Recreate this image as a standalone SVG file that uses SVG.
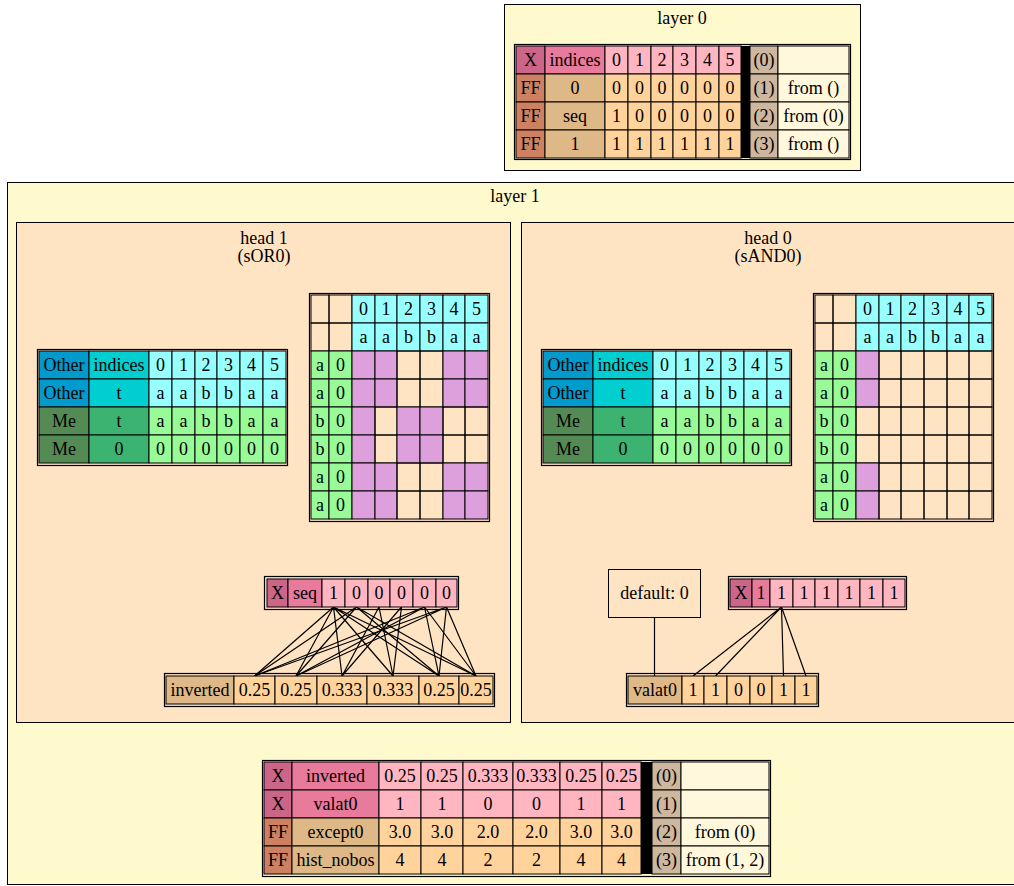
<svg xmlns="http://www.w3.org/2000/svg" width="1014" height="886" viewBox="0 0 1014 886">
<style>
.t{font-family:"Liberation Serif","Times New Roman","DejaVu Serif",serif;font-size:18px;text-anchor:middle;fill:#000}
.c{stroke:#000;stroke-width:1}
.o{fill:none;stroke:#000;stroke-width:1.2}
.xk{fill:#CC6688}.xl{fill:#E87A9C}.xv{fill:#FFB6C1}
.fk{fill:#CD8162}.fl{fill:#DEB887}.fv{fill:#FFD39B}
.n{fill:#CDB79E}.fr{fill:#FFF8DC}.bk{fill:#000}
.ok{fill:#009ACD}.ol{fill:#00CED1}.ov{fill:#98FFFF}
.mk{fill:#548B54}.ml{fill:#3CB371}.mv{fill:#98FB98}
.pk{fill:#DDA0DD}.e{fill:none}
.edge{stroke:#000;stroke-width:1.2;fill:none}
</style>
<rect width="1014" height="886" fill="#fff"/>

<!-- layer 0 -->
<g id="layer0">
<rect x="504.5" y="4.5" width="356" height="166" fill="#FFFACD" stroke="#000"/>
<text class="t" x="682" y="24">layer 0</text>
<g id="l0_table">
<rect class="o" x="514.5" y="44.5" width="336" height="115"/>
<rect class="c xk" x="516" y="46" width="29" height="28"/><text class="t" x="530.5" y="66">X</text>
<rect class="c xl" x="545" y="46" width="60" height="28"/><text class="t" x="575" y="66">indices</text>
<rect class="c xv" x="605" y="46" width="23" height="28"/><text class="t" x="616.5" y="66">0</text>
<rect class="c xv" x="628" y="46" width="23" height="28"/><text class="t" x="639.5" y="66">1</text>
<rect class="c xv" x="651" y="46" width="22" height="28"/><text class="t" x="662" y="66">2</text>
<rect class="c xv" x="673" y="46" width="23" height="28"/><text class="t" x="684.5" y="66">3</text>
<rect class="c xv" x="696" y="46" width="23" height="28"/><text class="t" x="707.5" y="66">4</text>
<rect class="c xv" x="719" y="46" width="22" height="28"/><text class="t" x="730" y="66">5</text>
<rect class="c n" x="750" y="46" width="28" height="28"/><text class="t" x="764" y="66">(0)</text>
<rect class="c fr" x="778" y="46" width="71" height="28"/>
<rect class="c fk" x="516" y="74" width="29" height="28"/><text class="t" x="530.5" y="94">FF</text>
<rect class="c fl" x="545" y="74" width="60" height="28"/><text class="t" x="575" y="94">0</text>
<rect class="c fv" x="605" y="74" width="23" height="28"/><text class="t" x="616.5" y="94">0</text>
<rect class="c fv" x="628" y="74" width="23" height="28"/><text class="t" x="639.5" y="94">0</text>
<rect class="c fv" x="651" y="74" width="22" height="28"/><text class="t" x="662" y="94">0</text>
<rect class="c fv" x="673" y="74" width="23" height="28"/><text class="t" x="684.5" y="94">0</text>
<rect class="c fv" x="696" y="74" width="23" height="28"/><text class="t" x="707.5" y="94">0</text>
<rect class="c fv" x="719" y="74" width="22" height="28"/><text class="t" x="730" y="94">0</text>
<rect class="c n" x="750" y="74" width="28" height="28"/><text class="t" x="764" y="94">(1)</text>
<rect class="c fr" x="778" y="74" width="71" height="28"/><text class="t" x="813.5" y="94">from ()</text>
<rect class="c fk" x="516" y="102" width="29" height="28"/><text class="t" x="530.5" y="122">FF</text>
<rect class="c fl" x="545" y="102" width="60" height="28"/><text class="t" x="575" y="122">seq</text>
<rect class="c fv" x="605" y="102" width="23" height="28"/><text class="t" x="616.5" y="122">1</text>
<rect class="c fv" x="628" y="102" width="23" height="28"/><text class="t" x="639.5" y="122">0</text>
<rect class="c fv" x="651" y="102" width="22" height="28"/><text class="t" x="662" y="122">0</text>
<rect class="c fv" x="673" y="102" width="23" height="28"/><text class="t" x="684.5" y="122">0</text>
<rect class="c fv" x="696" y="102" width="23" height="28"/><text class="t" x="707.5" y="122">0</text>
<rect class="c fv" x="719" y="102" width="22" height="28"/><text class="t" x="730" y="122">0</text>
<rect class="c n" x="750" y="102" width="28" height="28"/><text class="t" x="764" y="122">(2)</text>
<rect class="c fr" x="778" y="102" width="71" height="28"/><text class="t" x="813.5" y="122">from (0)</text>
<rect class="c fk" x="516" y="130" width="29" height="28"/><text class="t" x="530.5" y="150">FF</text>
<rect class="c fl" x="545" y="130" width="60" height="28"/><text class="t" x="575" y="150">1</text>
<rect class="c fv" x="605" y="130" width="23" height="28"/><text class="t" x="616.5" y="150">1</text>
<rect class="c fv" x="628" y="130" width="23" height="28"/><text class="t" x="639.5" y="150">1</text>
<rect class="c fv" x="651" y="130" width="22" height="28"/><text class="t" x="662" y="150">1</text>
<rect class="c fv" x="673" y="130" width="23" height="28"/><text class="t" x="684.5" y="150">1</text>
<rect class="c fv" x="696" y="130" width="23" height="28"/><text class="t" x="707.5" y="150">1</text>
<rect class="c fv" x="719" y="130" width="22" height="28"/><text class="t" x="730" y="150">1</text>
<rect class="c n" x="750" y="130" width="28" height="28"/><text class="t" x="764" y="150">(3)</text>
<rect class="c fr" x="778" y="130" width="71" height="28"/><text class="t" x="813.5" y="150">from ()</text>
<rect class="bk" x="741" y="46" width="9" height="112"/>
</g>
</g>

<!-- layer 1 -->
<g id="layer1">
<rect x="7.5" y="182.5" width="1020" height="702" fill="#FFFACD" stroke="#000"/>
<text class="t" x="515" y="202">layer 1</text>
</g>

<g id="head1">
<rect x="16.5" y="222.5" width="494" height="500" fill="#FFE4C4" stroke="#000"/>
<text class="t" x="264" y="244">head 1</text>
<text class="t" x="264" y="262">(sOR0)</text>
</g>
<g id="head0">
<rect x="521.5" y="222.5" width="494" height="500" fill="#FFE4C4" stroke="#000"/>
<text class="t" x="768" y="244">head 0</text>
<text class="t" x="768" y="262">(sAND0)</text>
</g>

<defs>
<g id="om_table">
<rect class="o" x="37.5" y="349.5" width="250" height="116"/>
<rect class="c ok" x="39" y="351" width="50" height="28"/><text class="t" x="64" y="371">Other</text>
<rect class="c ol" x="89" y="351" width="60" height="28"/><text class="t" x="119" y="371">indices</text>
<rect class="c ov" x="149" y="351" width="23" height="28"/><text class="t" x="160.5" y="371">0</text>
<rect class="c ov" x="172" y="351" width="23" height="28"/><text class="t" x="183.5" y="371">1</text>
<rect class="c ov" x="195" y="351" width="22" height="28"/><text class="t" x="206" y="371">2</text>
<rect class="c ov" x="217" y="351" width="23" height="28"/><text class="t" x="228.5" y="371">3</text>
<rect class="c ov" x="240" y="351" width="23" height="28"/><text class="t" x="251.5" y="371">4</text>
<rect class="c ov" x="263" y="351" width="23" height="28"/><text class="t" x="274.5" y="371">5</text>
<rect class="c ok" x="39" y="379" width="50" height="28"/><text class="t" x="64" y="399">Other</text>
<rect class="c ol" x="89" y="379" width="60" height="28"/><text class="t" x="119" y="399">t</text>
<rect class="c ov" x="149" y="379" width="23" height="28"/><text class="t" x="160.5" y="399">a</text>
<rect class="c ov" x="172" y="379" width="23" height="28"/><text class="t" x="183.5" y="399">a</text>
<rect class="c ov" x="195" y="379" width="22" height="28"/><text class="t" x="206" y="399">b</text>
<rect class="c ov" x="217" y="379" width="23" height="28"/><text class="t" x="228.5" y="399">b</text>
<rect class="c ov" x="240" y="379" width="23" height="28"/><text class="t" x="251.5" y="399">a</text>
<rect class="c ov" x="263" y="379" width="23" height="28"/><text class="t" x="274.5" y="399">a</text>
<rect class="c mk" x="39" y="407" width="50" height="28"/><text class="t" x="64" y="427">Me</text>
<rect class="c ml" x="89" y="407" width="60" height="28"/><text class="t" x="119" y="427">t</text>
<rect class="c mv" x="149" y="407" width="23" height="28"/><text class="t" x="160.5" y="427">a</text>
<rect class="c mv" x="172" y="407" width="23" height="28"/><text class="t" x="183.5" y="427">a</text>
<rect class="c mv" x="195" y="407" width="22" height="28"/><text class="t" x="206" y="427">b</text>
<rect class="c mv" x="217" y="407" width="23" height="28"/><text class="t" x="228.5" y="427">b</text>
<rect class="c mv" x="240" y="407" width="23" height="28"/><text class="t" x="251.5" y="427">a</text>
<rect class="c mv" x="263" y="407" width="23" height="28"/><text class="t" x="274.5" y="427">a</text>
<rect class="c mk" x="39" y="435" width="50" height="28"/><text class="t" x="64" y="455">Me</text>
<rect class="c ml" x="89" y="435" width="60" height="28"/><text class="t" x="119" y="455">0</text>
<rect class="c mv" x="149" y="435" width="23" height="28"/><text class="t" x="160.5" y="455">0</text>
<rect class="c mv" x="172" y="435" width="23" height="28"/><text class="t" x="183.5" y="455">0</text>
<rect class="c mv" x="195" y="435" width="22" height="28"/><text class="t" x="206" y="455">0</text>
<rect class="c mv" x="217" y="435" width="23" height="28"/><text class="t" x="228.5" y="455">0</text>
<rect class="c mv" x="240" y="435" width="23" height="28"/><text class="t" x="251.5" y="455">0</text>
<rect class="c mv" x="263" y="435" width="23" height="28"/><text class="t" x="274.5" y="455">0</text>
</g>
<g id="mat_head">
<rect class="o" x="309.5" y="293.5" width="180" height="228"/>
<rect class="c e" x="311" y="295" width="18" height="28"/>
<rect class="c e" x="329" y="295" width="23" height="28"/>
<rect class="c ov" x="352" y="295" width="23" height="28"/><text class="t" x="363.5" y="315">0</text>
<rect class="c ov" x="375" y="295" width="22" height="28"/><text class="t" x="386" y="315">1</text>
<rect class="c ov" x="397" y="295" width="23" height="28"/><text class="t" x="408.5" y="315">2</text>
<rect class="c ov" x="420" y="295" width="23" height="28"/><text class="t" x="431.5" y="315">3</text>
<rect class="c ov" x="443" y="295" width="22" height="28"/><text class="t" x="454" y="315">4</text>
<rect class="c ov" x="465" y="295" width="23" height="28"/><text class="t" x="476.5" y="315">5</text>
<rect class="c e" x="311" y="323" width="18" height="28"/>
<rect class="c e" x="329" y="323" width="23" height="28"/>
<rect class="c ov" x="352" y="323" width="23" height="28"/><text class="t" x="363.5" y="343">a</text>
<rect class="c ov" x="375" y="323" width="22" height="28"/><text class="t" x="386" y="343">a</text>
<rect class="c ov" x="397" y="323" width="23" height="28"/><text class="t" x="408.5" y="343">b</text>
<rect class="c ov" x="420" y="323" width="23" height="28"/><text class="t" x="431.5" y="343">b</text>
<rect class="c ov" x="443" y="323" width="22" height="28"/><text class="t" x="454" y="343">a</text>
<rect class="c ov" x="465" y="323" width="23" height="28"/><text class="t" x="476.5" y="343">a</text>
<rect class="c mv" x="311" y="351" width="18" height="28"/><text class="t" x="320" y="371">a</text>
<rect class="c mv" x="329" y="351" width="23" height="28"/><text class="t" x="340.5" y="371">0</text>
<rect class="c mv" x="311" y="379" width="18" height="28"/><text class="t" x="320" y="399">a</text>
<rect class="c mv" x="329" y="379" width="23" height="28"/><text class="t" x="340.5" y="399">0</text>
<rect class="c mv" x="311" y="407" width="18" height="28"/><text class="t" x="320" y="427">b</text>
<rect class="c mv" x="329" y="407" width="23" height="28"/><text class="t" x="340.5" y="427">0</text>
<rect class="c mv" x="311" y="435" width="18" height="28"/><text class="t" x="320" y="455">b</text>
<rect class="c mv" x="329" y="435" width="23" height="28"/><text class="t" x="340.5" y="455">0</text>
<rect class="c mv" x="311" y="463" width="18" height="28"/><text class="t" x="320" y="483">a</text>
<rect class="c mv" x="329" y="463" width="23" height="28"/><text class="t" x="340.5" y="483">0</text>
<rect class="c mv" x="311" y="491" width="18" height="28"/><text class="t" x="320" y="511">a</text>
<rect class="c mv" x="329" y="491" width="23" height="28"/><text class="t" x="340.5" y="511">0</text>
</g>
</defs>

<g id="h1_query_key"><use href="#om_table"/></g>
<g id="h1_selector">
<use href="#mat_head"/>
<rect class="c pk" x="352" y="351" width="23" height="28"/><rect class="c pk" x="375" y="351" width="22" height="28"/><rect class="c e" x="397" y="351" width="23" height="28"/><rect class="c e" x="420" y="351" width="23" height="28"/><rect class="c pk" x="443" y="351" width="22" height="28"/><rect class="c pk" x="465" y="351" width="23" height="28"/>
<rect class="c pk" x="352" y="379" width="23" height="28"/><rect class="c pk" x="375" y="379" width="22" height="28"/><rect class="c e" x="397" y="379" width="23" height="28"/><rect class="c e" x="420" y="379" width="23" height="28"/><rect class="c pk" x="443" y="379" width="22" height="28"/><rect class="c pk" x="465" y="379" width="23" height="28"/>
<rect class="c pk" x="352" y="407" width="23" height="28"/><rect class="c e" x="375" y="407" width="22" height="28"/><rect class="c pk" x="397" y="407" width="23" height="28"/><rect class="c pk" x="420" y="407" width="23" height="28"/><rect class="c e" x="443" y="407" width="22" height="28"/><rect class="c e" x="465" y="407" width="23" height="28"/>
<rect class="c pk" x="352" y="435" width="23" height="28"/><rect class="c e" x="375" y="435" width="22" height="28"/><rect class="c pk" x="397" y="435" width="23" height="28"/><rect class="c pk" x="420" y="435" width="23" height="28"/><rect class="c e" x="443" y="435" width="22" height="28"/><rect class="c e" x="465" y="435" width="23" height="28"/>
<rect class="c pk" x="352" y="463" width="23" height="28"/><rect class="c pk" x="375" y="463" width="22" height="28"/><rect class="c e" x="397" y="463" width="23" height="28"/><rect class="c e" x="420" y="463" width="23" height="28"/><rect class="c pk" x="443" y="463" width="22" height="28"/><rect class="c pk" x="465" y="463" width="23" height="28"/>
<rect class="c pk" x="352" y="491" width="23" height="28"/><rect class="c pk" x="375" y="491" width="22" height="28"/><rect class="c e" x="397" y="491" width="23" height="28"/><rect class="c e" x="420" y="491" width="23" height="28"/><rect class="c pk" x="443" y="491" width="22" height="28"/><rect class="c pk" x="465" y="491" width="23" height="28"/>
</g>

<g id="h0_query_key" transform="translate(504,0)"><use href="#om_table"/></g>
<g id="h0_selector" transform="translate(504,0)">
<use href="#mat_head"/>
<rect class="c pk" x="352" y="351" width="23" height="28"/><rect class="c e" x="375" y="351" width="22" height="28"/><rect class="c e" x="397" y="351" width="23" height="28"/><rect class="c e" x="420" y="351" width="23" height="28"/><rect class="c e" x="443" y="351" width="22" height="28"/><rect class="c e" x="465" y="351" width="23" height="28"/>
<rect class="c pk" x="352" y="379" width="23" height="28"/><rect class="c e" x="375" y="379" width="22" height="28"/><rect class="c e" x="397" y="379" width="23" height="28"/><rect class="c e" x="420" y="379" width="23" height="28"/><rect class="c e" x="443" y="379" width="22" height="28"/><rect class="c e" x="465" y="379" width="23" height="28"/>
<rect class="c e" x="352" y="407" width="23" height="28"/><rect class="c e" x="375" y="407" width="22" height="28"/><rect class="c e" x="397" y="407" width="23" height="28"/><rect class="c e" x="420" y="407" width="23" height="28"/><rect class="c e" x="443" y="407" width="22" height="28"/><rect class="c e" x="465" y="407" width="23" height="28"/>
<rect class="c e" x="352" y="435" width="23" height="28"/><rect class="c e" x="375" y="435" width="22" height="28"/><rect class="c e" x="397" y="435" width="23" height="28"/><rect class="c e" x="420" y="435" width="23" height="28"/><rect class="c e" x="443" y="435" width="22" height="28"/><rect class="c e" x="465" y="435" width="23" height="28"/>
<rect class="c pk" x="352" y="463" width="23" height="28"/><rect class="c e" x="375" y="463" width="22" height="28"/><rect class="c e" x="397" y="463" width="23" height="28"/><rect class="c e" x="420" y="463" width="23" height="28"/><rect class="c e" x="443" y="463" width="22" height="28"/><rect class="c e" x="465" y="463" width="23" height="28"/>
<rect class="c pk" x="352" y="491" width="23" height="28"/><rect class="c e" x="375" y="491" width="22" height="28"/><rect class="c e" x="397" y="491" width="23" height="28"/><rect class="c e" x="420" y="491" width="23" height="28"/><rect class="c e" x="443" y="491" width="22" height="28"/><rect class="c e" x="465" y="491" width="23" height="28"/>
</g>

<g id="connectors">
<path class="edge" d="M333.5,607L254.5,676M333.5,607L296,676M333.5,607L342,676M333.5,607L393,676M333.5,607L439,676M333.5,607L476,676"/>
<path class="edge" d="M356.5,607L254.5,676M356.5,607L296,676M356.5,607L439,676M356.5,607L476,676"/>
<path class="edge" d="M379,607L342,676M379,607L393,676M401.5,607L342,676M401.5,607L393,676"/>
<path class="edge" d="M424.5,607L254.5,676M424.5,607L296,676M424.5,607L439,676M424.5,607L476,676"/>
<path class="edge" d="M446.5,607L254.5,676M446.5,607L296,676M446.5,607L439,676M446.5,607L476,676"/>
<path class="edge" d="M781.5,607L693,676M781.5,607L715.5,676M781.5,607L783.5,676M781.5,607L806,676"/>
<path class="edge" d="M654.5,617.5L654.5,676"/>
</g>

<g id="h1_seq">
<rect class="o" x="264.5" y="576.5" width="194" height="33"/>
<rect class="c xk" x="267" y="579" width="21" height="28"/><text class="t" x="277.5" y="599">X</text>
<rect class="c xl" x="288" y="579" width="34" height="28"/><text class="t" x="305" y="599">seq</text>
<rect class="c xv" x="322" y="579" width="23" height="28"/><text class="t" x="333.5" y="599">1</text>
<rect class="c xv" x="345" y="579" width="23" height="28"/><text class="t" x="356.5" y="599">0</text>
<rect class="c xv" x="368" y="579" width="22" height="28"/><text class="t" x="379" y="599">0</text>
<rect class="c xv" x="390" y="579" width="23" height="28"/><text class="t" x="401.5" y="599">0</text>
<rect class="c xv" x="413" y="579" width="23" height="28"/><text class="t" x="424.5" y="599">0</text>
<rect class="c xv" x="436" y="579" width="21" height="28"/><text class="t" x="446.5" y="599">0</text>
</g>
<g id="h1_inverted">
<rect class="o" x="164.5" y="673.5" width="330" height="33"/>
<rect class="c fl" x="166" y="676" width="68" height="28"/><text class="t" x="200" y="696">inverted</text>
<rect class="c fv" x="234" y="676" width="41" height="28"/><text class="t" x="254.5" y="696">0.25</text>
<rect class="c fv" x="275" y="676" width="42" height="28"/><text class="t" x="296" y="696">0.25</text>
<rect class="c fv" x="317" y="676" width="50" height="28"/><text class="t" x="342" y="696">0.333</text>
<rect class="c fv" x="367" y="676" width="52" height="28"/><text class="t" x="393" y="696">0.333</text>
<rect class="c fv" x="419" y="676" width="40" height="28"/><text class="t" x="439" y="696">0.25</text>
<rect class="c fv" x="459" y="676" width="34" height="28"/><text class="t" x="476" y="696">0.25</text>
</g>

<g id="h0_key">
<rect class="o" x="728.5" y="576.5" width="178" height="33"/>
<rect class="c xk" x="730" y="579" width="22" height="28"/><text class="t" x="741" y="599">X</text>
<rect class="c xl" x="752" y="579" width="18" height="28"/><text class="t" x="761" y="599">1</text>
<rect class="c xv" x="770" y="579" width="23" height="28"/><text class="t" x="781.5" y="599">1</text>
<rect class="c xv" x="793" y="579" width="22" height="28"/><text class="t" x="804" y="599">1</text>
<rect class="c xv" x="815" y="579" width="23" height="28"/><text class="t" x="826.5" y="599">1</text>
<rect class="c xv" x="838" y="579" width="22" height="28"/><text class="t" x="849" y="599">1</text>
<rect class="c xv" x="860" y="579" width="23" height="28"/><text class="t" x="871.5" y="599">1</text>
<rect class="c xv" x="883" y="579" width="22" height="28"/><text class="t" x="894" y="599">1</text>
</g>
<g id="h0_default">
<rect x="608.5" y="569.5" width="92" height="48" fill="#FFE4C4" stroke="#000"/>
<text class="t" x="654.5" y="599">default: 0</text>
</g>
<g id="h0_valat0">
<rect class="o" x="626.5" y="673.5" width="192" height="33"/>
<rect class="c fl" x="628" y="676" width="54" height="28"/><text class="t" x="655" y="696">valat0</text>
<rect class="c fv" x="682" y="676" width="22" height="28"/><text class="t" x="693" y="696">1</text>
<rect class="c fv" x="704" y="676" width="23" height="28"/><text class="t" x="715.5" y="696">1</text>
<rect class="c fv" x="727" y="676" width="23" height="28"/><text class="t" x="738.5" y="696">0</text>
<rect class="c fv" x="750" y="676" width="22" height="28"/><text class="t" x="761" y="696">0</text>
<rect class="c fv" x="772" y="676" width="23" height="28"/><text class="t" x="783.5" y="696">1</text>
<rect class="c fv" x="795" y="676" width="22" height="28"/><text class="t" x="806" y="696">1</text>
</g>

<g id="l1_table">
<rect class="o" x="262.5" y="760.5" width="508" height="116"/>
<rect class="c xk" x="264" y="762" width="28" height="28"/><text class="t" x="278" y="782">X</text>
<rect class="c xl" x="292" y="762" width="87" height="28"/><text class="t" x="335.5" y="782">inverted</text>
<rect class="c xv" x="379" y="762" width="42" height="28"/><text class="t" x="400" y="782">0.25</text>
<rect class="c xv" x="421" y="762" width="42" height="28"/><text class="t" x="442" y="782">0.25</text>
<rect class="c xv" x="463" y="762" width="50" height="28"/><text class="t" x="488" y="782">0.333</text>
<rect class="c xv" x="513" y="762" width="47" height="28"/><text class="t" x="536.5" y="782">0.333</text>
<rect class="c xv" x="560" y="762" width="42" height="28"/><text class="t" x="581" y="782">0.25</text>
<rect class="c xv" x="602" y="762" width="39" height="28"/><text class="t" x="621.5" y="782">0.25</text>
<rect class="c n" x="652" y="762" width="29" height="28"/><text class="t" x="666.5" y="782">(0)</text>
<rect class="c fr" x="681" y="762" width="88" height="28"/>
<rect class="c xk" x="264" y="790" width="28" height="28"/><text class="t" x="278" y="810">X</text>
<rect class="c xl" x="292" y="790" width="87" height="28"/><text class="t" x="335.5" y="810">valat0</text>
<rect class="c xv" x="379" y="790" width="42" height="28"/><text class="t" x="400" y="810">1</text>
<rect class="c xv" x="421" y="790" width="42" height="28"/><text class="t" x="442" y="810">1</text>
<rect class="c xv" x="463" y="790" width="50" height="28"/><text class="t" x="488" y="810">0</text>
<rect class="c xv" x="513" y="790" width="47" height="28"/><text class="t" x="536.5" y="810">0</text>
<rect class="c xv" x="560" y="790" width="42" height="28"/><text class="t" x="581" y="810">1</text>
<rect class="c xv" x="602" y="790" width="39" height="28"/><text class="t" x="621.5" y="810">1</text>
<rect class="c n" x="652" y="790" width="29" height="28"/><text class="t" x="666.5" y="810">(1)</text>
<rect class="c fr" x="681" y="790" width="88" height="28"/>
<rect class="c fk" x="264" y="818" width="28" height="28"/><text class="t" x="278" y="838">FF</text>
<rect class="c fl" x="292" y="818" width="87" height="28"/><text class="t" x="335.5" y="838">except0</text>
<rect class="c fv" x="379" y="818" width="42" height="28"/><text class="t" x="400" y="838">3.0</text>
<rect class="c fv" x="421" y="818" width="42" height="28"/><text class="t" x="442" y="838">3.0</text>
<rect class="c fv" x="463" y="818" width="50" height="28"/><text class="t" x="488" y="838">2.0</text>
<rect class="c fv" x="513" y="818" width="47" height="28"/><text class="t" x="536.5" y="838">2.0</text>
<rect class="c fv" x="560" y="818" width="42" height="28"/><text class="t" x="581" y="838">3.0</text>
<rect class="c fv" x="602" y="818" width="39" height="28"/><text class="t" x="621.5" y="838">3.0</text>
<rect class="c n" x="652" y="818" width="29" height="28"/><text class="t" x="666.5" y="838">(2)</text>
<rect class="c fr" x="681" y="818" width="88" height="28"/><text class="t" x="725" y="838">from (0)</text>
<rect class="c fk" x="264" y="846" width="28" height="28"/><text class="t" x="278" y="866">FF</text>
<rect class="c fl" x="292" y="846" width="87" height="28"/><text class="t" x="335.5" y="866">hist_nobos</text>
<rect class="c fv" x="379" y="846" width="42" height="28"/><text class="t" x="400" y="866">4</text>
<rect class="c fv" x="421" y="846" width="42" height="28"/><text class="t" x="442" y="866">4</text>
<rect class="c fv" x="463" y="846" width="50" height="28"/><text class="t" x="488" y="866">2</text>
<rect class="c fv" x="513" y="846" width="47" height="28"/><text class="t" x="536.5" y="866">2</text>
<rect class="c fv" x="560" y="846" width="42" height="28"/><text class="t" x="581" y="866">4</text>
<rect class="c fv" x="602" y="846" width="39" height="28"/><text class="t" x="621.5" y="866">4</text>
<rect class="c n" x="652" y="846" width="29" height="28"/><text class="t" x="666.5" y="866">(3)</text>
<rect class="c fr" x="681" y="846" width="88" height="28"/><text class="t" x="725" y="866">from (1, 2)</text>
<rect class="bk" x="641" y="762" width="11" height="112"/>
</g>
</svg>
